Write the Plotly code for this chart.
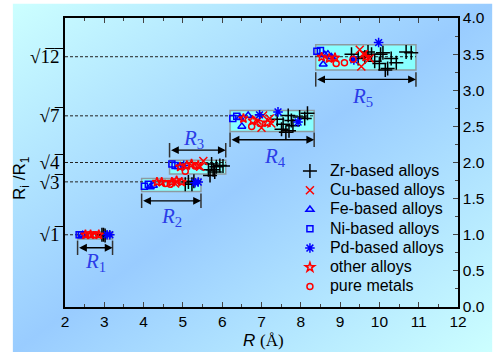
import base64
import numpy as np
import plotly.graph_objects as go

# ---------------- data ----------------
zr_x = [2.94, 2.98, 3.02,
        5.06, 5.14, 5.23, 5.28,
        5.65, 5.69, 5.73, 5.77, 5.81, 5.85, 5.94, 6.02,
        7.40, 7.51, 7.55, 7.62, 7.68, 7.76, 7.80, 7.97, 8.10, 8.17, 7.70,
        9.29, 9.46, 9.63, 9.71, 9.80, 9.88, 10.00, 10.03, 10.09, 10.15, 10.21, 10.30, 10.43, 10.68, 10.81]
zr_y = [1.00, 1.00, 0.99,
        1.70, 1.73, 1.70, 1.74,
        1.90, 1.82, 1.98, 1.90, 1.87, 1.94, 1.96, 1.95,
        2.60, 2.46, 2.53, 2.42, 2.65, 2.58, 2.51, 2.63, 2.61, 2.68, 2.44,
        3.50, 3.44, 3.46, 3.53, 3.50, 3.40, 3.37, 3.50, 3.52, 3.28, 3.30, 3.44, 3.38, 3.53, 3.52]

cu_x = [4.80, 5.44, 5.52, 7.00, 7.04, 7.21, 7.25, 6.90, 9.50, 9.54, 9.75, 9.60]
cu_y = [1.71, 1.94, 2.02, 2.48, 2.65, 2.61, 2.54, 2.58, 3.56, 3.33, 3.44, 3.50]

fe_x = [2.45, 4.17, 4.25, 4.88, 6.50, 6.66, 6.45, 8.57, 8.61, 8.69, 8.78]
fe_y = [1.00, 1.66, 1.68, 1.94, 2.50, 2.65, 2.62, 3.36, 3.49, 3.50, 3.46]

ni_x = [2.36, 2.42, 4.02, 4.12, 4.72, 4.80, 6.27, 6.37, 8.41, 8.50]
ni_y = [1.00, 1.00, 1.67, 1.70, 1.98, 1.96, 2.61, 2.64, 3.54, 3.55]

pd_x = [3.07, 3.14, 5.31, 5.39, 5.02, 7.42, 7.93, 6.95, 9.98, 9.35]
pd_y = [1.00, 1.00, 1.72, 1.73, 1.96, 2.70, 2.56, 2.66, 3.66, 3.42]

other_x = [2.52, 2.65, 2.86, 4.34, 4.46, 4.72, 4.84, 4.97, 4.93, 5.10, 5.22, 5.39,
           6.54, 6.78, 7.15, 8.53, 8.72, 8.87, 9.65]
other_y = [1.00, 1.00, 1.00, 1.73, 1.73, 1.73, 1.75, 1.73, 1.94, 1.96, 1.98, 1.96,
           2.61, 2.58, 2.55, 3.46, 3.44, 3.45, 3.46]

pure_x = [2.61, 2.73, 2.78, 4.55, 4.68, 5.06, 5.31, 6.75, 6.96, 8.90, 9.11, 9.33]
pure_y = [1.00, 1.00, 1.00, 1.71, 1.70, 1.88, 1.95, 2.50, 2.54, 3.37, 3.38, 3.43]

# shells
shell_n = [1, 3, 4, 7, 12]                 # R_i/R_1 = sqrt(n)
shell_names = ["1", "2", "3", "4", "5"]
box_x0 = [2.32, 3.95, 4.66, 6.20, 8.38]
box_x1 = [3.21, 5.46, 6.09, 8.34, 10.93]
box_y0 = [0.94, 1.60, 1.84, 2.43, 3.28]
box_y1 = [1.04, 1.78, 2.03, 2.72, 3.63]
arrow_y = [0.82, 1.47, 2.17, 2.315, 3.15]
label_x = [2.77, 4.72, 5.27, 7.34, 9.58]
label_y = [0.62, 1.24, 2.33, 2.07, 2.90]

right_ticks = [0.0, 0.5, 1.0, 1.5, 2.0, 2.5, 3.0, 3.5, 4.0]
x_ticks = list(range(2, 13))

# ---------------- figure ----------------
W, H = 493, 352
ML, MR, MT, MB = 64.5, 34.5, 17.5, 45.3
pw, ph = W - ML - MR, H - MT - MB

SANS = "Liberation Sans, Arial, sans-serif"
SERIF = "Liberation Serif, Times New Roman, serif"
BLUE = "#0000ff"
RED = "#ff0000"

fig = go.Figure()

series = [
    ("Zr-based alloys", zr_x, zr_y, "cross-thin-open", "black", 10, "y"),
    ("Cu-based alloys", cu_x, cu_y, "x-thin-open", RED, 8, "y"),
    ("Fe-based alloys", fe_x, fe_y, "triangle-up-open", BLUE, 7, "y"),
    ("Ni-based alloys", ni_x, ni_y, "square-open", BLUE, 6, "y"),
    ("Pd-based alloys", pd_x, pd_y, "asterisk-open", BLUE, 8, "y"),
    ("other alloys", other_x, other_y, "star-open", RED, 7, "y"),
    ("pure metals", pure_x, pure_y, "circle-open", RED, 6, "y2"),
]
for name, xs, ys, sym, col, sz, yax in series:
    fig.add_trace(go.Scatter(
        x=xs, y=ys, mode="markers", yaxis=yax,
        name="<span style='font-size:16px'>%s</span>" % name,
        marker=dict(symbol=sym, color=col, size=sz, line=dict(color=col, width=1.5)),
    ))

levels = np.sqrt(shell_n)
shapes = []
annotations = []
for i in range(len(shell_n)):
    shapes.append(dict(type="rect", xref="x", yref="y", x0=box_x0[i], x1=box_x1[i],
                       y0=box_y0[i], y1=box_y1[i], fillcolor="#88ffff",
                       line=dict(color="#8c9aa0", width=1.5), layer="below"))
    shapes.append(dict(type="line", xref="x", yref="y", x0=2, x1=box_x1[i],
                       y0=levels[i], y1=levels[i],
                       line=dict(color="#222222", width=1, dash="3px,2px"), layer="below"))
    for xe in (box_x0[i], box_x1[i]):
        shapes.append(dict(type="line", xref="x", yref="y", x0=xe, x1=xe,
                           y0=arrow_y[i] - 0.1, y1=arrow_y[i] + 0.1,
                           line=dict(color="#333333", width=1.5)))
    annotations.append(dict(x=box_x1[i], y=arrow_y[i], ax=box_x0[i], ay=arrow_y[i],
                            xref="x", yref="y", axref="x", ayref="y", text="",
                            showarrow=True, arrowside="end+start", arrowhead=2,
                            startarrowhead=2, arrowsize=1.2, startarrowsize=1.2,
                            arrowwidth=1.3, arrowcolor="black"))
    annotations.append(dict(x=label_x[i], y=label_y[i], xref="x", yref="y",
                            xanchor="center", yanchor="middle",
                            text="<i>R</i><sub>%s</sub>" % shell_names[i], showarrow=False,
                            font=dict(family=SERIF, size=21, color="#2b3de8")))

def rad(n):
    return "√" + "".join(c + "\u0305" for c in str(n))

# axis titles
annotations.append(dict(x=(21 - ML) / pw, y=(H - MB - 178) / ph, xref="paper", yref="paper",
                        xanchor="center", yanchor="middle",
                        text="R<sub>i</sub> /R<sub>1</sub>", textangle=-90, showarrow=False,
                        font=dict(family=SANS, size=17, color="black")))
annotations.append(dict(x=(264 - ML) / pw, y=(H - MB - 340) / ph, xref="paper", yref="paper",
                        xanchor="center", yanchor="middle",
                        text="<i>R</i> <span style='font-family:Liberation Serif'>(Å)</span>",
                        showarrow=False, font=dict(family=SANS, size=17, color="black")))

# gradient background
svg = ('<svg xmlns="http://www.w3.org/2000/svg" width="481" height="349" preserveAspectRatio="none">'
       '<defs><linearGradient id="g" x1="0" y1="0" x2="1" y2="1">'
       '<stop offset="0" stop-color="#ccffff"/><stop offset="0.5" stop-color="#99ccff"/>'
       '<stop offset="1" stop-color="#ccffff"/></linearGradient></defs>'
       '<rect width="481" height="349" fill="url(#g)"/></svg>')
src = "data:image/svg+xml;base64," + base64.b64encode(svg.encode()).decode()
bg_left, bg_top = 12, 3
images = [dict(source=src, xref="paper", yref="paper",
               x=(bg_left - ML) / pw, y=(H - MB - bg_top) / ph,
               sizex=(W - bg_left) / pw, sizey=(H - bg_top) / ph,
               xanchor="left", yanchor="top", sizing="stretch", layer="below")]

fig.update_layout(
    width=W, height=H, autosize=False,
    margin=dict(l=ML, r=MR, t=MT, b=MB, pad=0, autoexpand=False),
    paper_bgcolor="white", plot_bgcolor="rgba(0,0,0,0)",
    showlegend=True,
    legend=dict(x=(290 - ML) / pw, y=(H - MB - 156) / ph, xanchor="left", yanchor="top",
                bgcolor="rgba(0,0,0,0)", font=dict(family=SANS, size=12.5, color="black"),
                itemwidth=30),
    xaxis=dict(range=[2, 12], tickvals=x_ticks, ticks="inside", ticklen=5, tickwidth=1.3,
               showline=True, linecolor="black", linewidth=1.5, mirror="ticks",
               showgrid=False, zeroline=False, automargin=False,
               tickfont=dict(family=SANS, size=15.5, color="black"),
               minor=dict(dtick=0.5, ticks="inside", ticklen=3, tickwidth=1.2, showgrid=False)),
    yaxis=dict(range=[0, 4], tickvals=list(levels), ticktext=[rad(n) for n in shell_n],
               ticks="", showline=True, linecolor="black", linewidth=1.5,
               showgrid=False, zeroline=False, automargin=False,
               tickfont=dict(family=SERIF, size=19, color="black")),
    yaxis2=dict(range=[0, 4], overlaying="y", side="right", anchor="x",
                tickvals=right_ticks, ticktext=["%.1f" % v for v in right_ticks],
                ticks="inside", ticklen=5, tickwidth=1.3,
                showline=True, linecolor="black", linewidth=1.5,
                showgrid=False, zeroline=False, automargin=False,
                tickfont=dict(family=SANS, size=15.5, color="black"),
                minor=dict(dtick=0.25, ticks="inside", ticklen=3, tickwidth=1.2, showgrid=False)),
    shapes=shapes, annotations=annotations, images=images,
)

fig.write_html("out.html", config={"displayModeBar": False},
               post_script="document.body.style.margin='0px';document.body.style.padding='0px';")
